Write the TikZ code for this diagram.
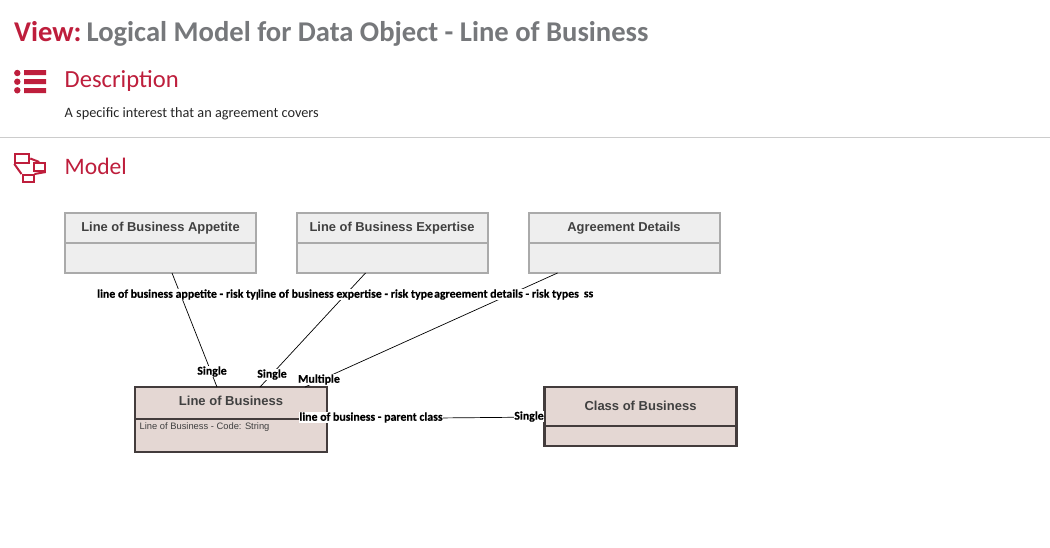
\documentclass[tikz,border=0pt]{standalone}
\usepackage{fontspec}
\setmainfont{Carlito}
\newfontfamily\boxfont{Liberation Sans}
\newfontfamily\lblfont[FakeBold=0.35]{Carlito Bold}
\definecolor{brandred}{HTML}{BE1E3C}
\definecolor{titlegray}{HTML}{76787B}
\definecolor{greyfill}{HTML}{EEEEEE}
\definecolor{greyline}{HTML}{AAAAAA}
\definecolor{brownfill}{HTML}{E4D7D3}
\definecolor{brownline}{HTML}{433C3C}
\definecolor{bodytext}{HTML}{404040}
\definecolor{desctextcol}{HTML}{262626}
\tikzset{
  headtext/.style={anchor=base west,inner sep=0pt,text=brandred},
  comp/.style={draw,line width=2pt,inner sep=0pt,outer sep=0pt},
  greycomp/.style={comp,minimum width=191pt,draw=greyline,fill=greyfill},
  browncomp/.style={comp,minimum width=192pt,draw=brownline,fill=brownfill,line width=2.2pt},
  titletext/.style={text=bodytext,font=\boxfont\bfseries\fontsize{12.9}{15}\selectfont},
  browntitle/.style={inner sep=0pt,text=bodytext,font=\boxfont\bfseries\fontsize{13}{15}\selectfont},
  assoc/.style={draw=black,line width=0.7pt},
  lbl/.style={fill=white,inner xsep=0pt,inner ysep=0.5pt,text=black,font=\lblfont\fontsize{11.85}{14}\selectfont},
  iconline/.style={draw=brandred,line width=2pt},
  iconbox/.style={draw=brandred,line width=2pt,fill=white,inner sep=0pt},
}
\begin{document}
\begin{tikzpicture}[x=1pt,y=-1pt]
\useasboundingbox (0,0) rectangle (1050,547);
\fill[white] (0,0) rectangle (1050,547);

% Heading
\node[anchor=base west,inner sep=0pt,font=\bfseries\fontsize{28.6}{32}\selectfont] (title) at (14,41)
  {\textcolor{brandred}{View:}\hspace{5pt}\textcolor{titlegray}{Logical Model for Data Object - Line of Business}};
\node[headtext,font=\fontsize{24.6}{28}\selectfont] (desc) at (64.5,87.5) {Description};
\node[anchor=base west,inner sep=0pt,text=desctextcol,font=\fontsize{14.3}{18}\selectfont] (desctext) at (64.5,117) {A specific interest that an agreement covers};
\draw[draw=black!20,line width=1pt] (0,137.5) -- (1050,137.5);
\node[headtext,font=\fontsize{23.6}{28}\selectfont] (model) at (64.5,174) {Model};

% List icon
\fill[brandred] (17.3,73) circle (3.2) (17.3,81.7) circle (3.2) (17.3,90.3) circle (3.2);
\fill[brandred] (24,70) rectangle (46,75) (24,79) rectangle (46,84) (24,88) rectangle (46,93);

% Model icon
\node[iconbox,minimum width=14pt,minimum height=9pt] (ia) at (22.3,158.5) {};
\node[iconbox,minimum width=11pt,minimum height=8pt] (ib) at (39.3,167) {};
\node[iconbox,minimum width=11pt,minimum height=7pt] (ic) at (28,178.5) {};
\draw[iconline] (ia.east) -- (ib.north);
\draw[iconline] (ia.south west) -- (ic.north west);
\draw[iconline] (ic.north east) -- (ib.south east);

% Classes
\node[greycomp,minimum height=30pt,titletext] (ah) at (160.5,228) {Line of Business Appetite};
\node[greycomp,minimum height=30pt] (ab) at (160.5,258) {};
\node[greycomp,minimum height=30pt,titletext] (eh) at (392,228) {Line of Business Expertise};
\node[greycomp,minimum height=30pt] (eb) at (392,258) {};
\node[greycomp,minimum height=30pt,titletext] (dh) at (624,228) {Agreement Details};
\node[greycomp,minimum height=30pt] (db) at (624,258) {};
\node[browncomp,minimum height=32pt] (lh) at (231,403) {};
\node[browncomp,minimum height=33pt] (lb) at (231,435.5) {};
\node[browntitle] (ltitle) at (231,401) {Line of Business};
\node[anchor=west,inner sep=0pt,text=bodytext,font=\boxfont\fontsize{9.35}{11}\selectfont] (attr) at (139.5,427.5) {Line of Business - Code: String};
\node[browncomp,minimum height=39pt] (ch) at (640.5,406.5) {};
\node[browncomp,minimum height=20pt] (cb) at (640.5,436) {};
\node[browntitle] (ctitle) at (640.5,405.5) {Class of Business};

% Associations
\draw[assoc] ([xshift=107pt]ab.south west) -- ([xshift=82pt]lh.north west);
\draw[assoc] ([xshift=69pt]eb.south west) -- ([xshift=125pt]lh.north west);
\draw[assoc] ([xshift=29pt]db.south west) -- ([xshift=170pt]lh.north west);
\draw[assoc] (lh.south east) -- ([yshift=-10.5pt]ch.west);

% Labels
\node[lbl] (l1) at (185,294.5) {line of business appetite - risk types};
\node[lbl,anchor=east] (ss) at (593.5,294.5) {ss};
\node[lbl] (l2) at (345.5,294.5) {line of business expertise - risk type};
\node[lbl] (l3) at (506.5,294.5) {agreement details - risk types};
\node[lbl] (s1) at (212,371.5) {Single};
\node[lbl] (s2) at (272,374.5) {Single};
\node[lbl] (m1) at (319,379.5) {Multiple};
\node[lbl] (p1) at (371,417.5) {line of business - parent class};
\node[lbl] (s3) at (529,416.5) {Single};
\end{tikzpicture}
\end{document}
